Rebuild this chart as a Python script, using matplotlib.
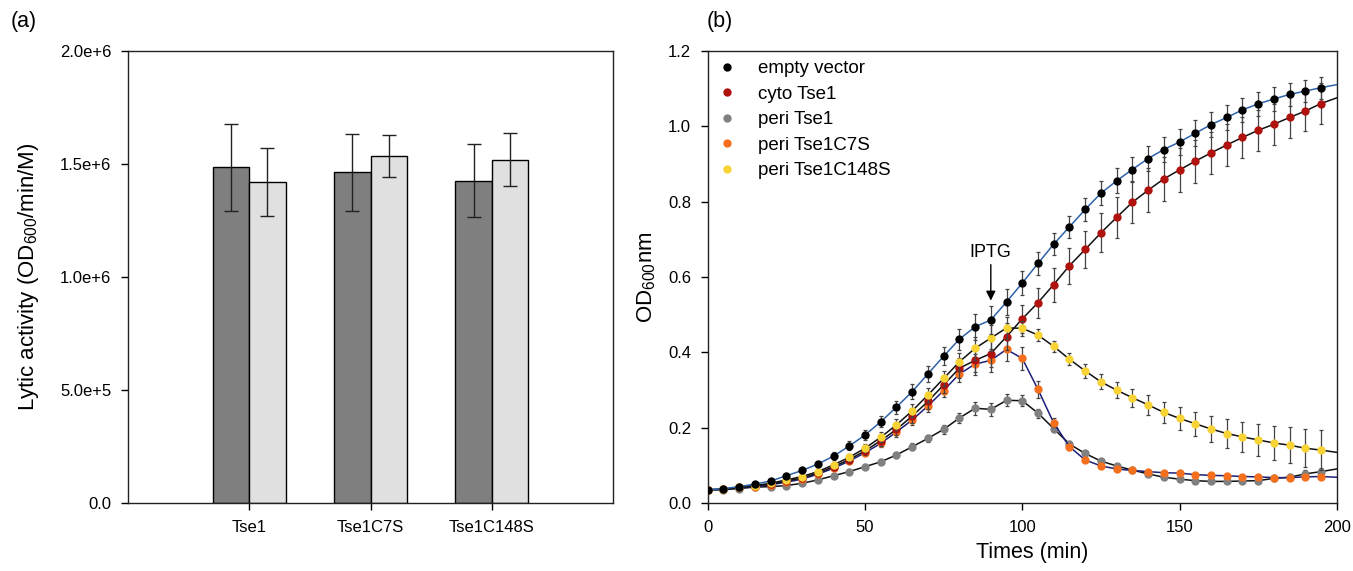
import matplotlib
matplotlib.use('Agg')
import matplotlib.pyplot as plt
import numpy as np

plt.rcParams['font.family'] = ['Liberation Sans', 'DejaVu Sans']
plt.rcParams['mathtext.fontset'] = 'custom'
plt.rcParams['mathtext.rm'] = 'Liberation Sans'

# ---- panel (a): lytic activity ----
proteins = ['Tse1', 'Tse1C7S', 'Tse1C148S']
activity_dark = [1.484e6, 1.463e6, 1.426e6]
err_dark = [0.193e6, 0.170e6, 0.161e6]
activity_light = [1.419e6, 1.535e6, 1.519e6]
err_light = [0.150e6, 0.093e6, 0.118e6]
a_ticks = [0, 5e5, 1e6, 1.5e6, 2e6]
a_ticklabels = ['0.0', '5.0e+5', '1.0e+6', '1.5e+6', '2.0e+6']

# ---- panel (b): growth curves, every 5 min ----
times = list(range(0, 200, 5))
t_end = 200
labels = ['empty vector', 'cyto Tse1', 'peri Tse1', 'peri Tse1C7S', 'peri Tse1C148S']

empty_vector = [0.035, 0.039, 0.044, 0.051, 0.059, 0.073, 0.087, 0.104, 0.125, 0.152,
                0.181, 0.216, 0.255, 0.296, 0.343, 0.390, 0.435, 0.468, 0.486, 0.534,
                0.584, 0.636, 0.687, 0.733, 0.779, 0.822, 0.855, 0.885, 0.914, 0.938,
                0.958, 0.981, 1.004, 1.023, 1.043, 1.059, 1.072, 1.084, 1.093, 1.102]
cyto_tse1 = [0.036, 0.037, 0.042, 0.046, 0.051, 0.059, 0.067, 0.080, 0.097, 0.116,
             0.139, 0.166, 0.196, 0.231, 0.270, 0.314, 0.358, 0.379, 0.397, 0.442,
             0.489, 0.532, 0.580, 0.630, 0.673, 0.717, 0.758, 0.798, 0.830, 0.860,
             0.884, 0.907, 0.929, 0.950, 0.970, 0.989, 1.005, 1.023, 1.040, 1.060]
peri_tse1 = [0.036, 0.036, 0.039, 0.043, 0.044, 0.047, 0.053, 0.062, 0.073, 0.084,
             0.097, 0.110, 0.128, 0.150, 0.172, 0.196, 0.226, 0.252, 0.249, 0.273,
             0.272, 0.239, 0.198, 0.157, 0.132, 0.112, 0.099, 0.088, 0.078, 0.069,
             0.064, 0.060, 0.058, 0.058, 0.059, 0.060, 0.066, 0.069, 0.078, 0.084]
peri_c7s = [0.036, 0.037, 0.042, 0.044, 0.049, 0.056, 0.064, 0.077, 0.093, 0.112,
            0.134, 0.159, 0.189, 0.221, 0.258, 0.299, 0.343, 0.369, 0.379, 0.408,
            0.384, 0.302, 0.213, 0.150, 0.115, 0.099, 0.091, 0.087, 0.084, 0.081,
            0.080, 0.076, 0.074, 0.073, 0.071, 0.070, 0.068, 0.068, 0.070, 0.071]
peri_c148s = [0.036, 0.037, 0.043, 0.047, 0.053, 0.062, 0.071, 0.084, 0.102, 0.122,
              0.146, 0.175, 0.208, 0.245, 0.287, 0.331, 0.375, 0.411, 0.438, 0.465,
              0.464, 0.446, 0.416, 0.382, 0.351, 0.322, 0.300, 0.280, 0.261, 0.241,
              0.225, 0.211, 0.197, 0.185, 0.176, 0.168, 0.160, 0.154, 0.146, 0.141]
# where the fitted curves leave the plot at t = 200
line_end = [1.110, 1.075, 0.091, 0.069, 0.135]

err_empty = [0.003, 0.003, 0.004, 0.004, 0.005, 0.006, 0.007, 0.008, 0.010, 0.012,
             0.013, 0.015, 0.017, 0.019, 0.021, 0.024, 0.028, 0.034, 0.036, 0.034,
             0.032, 0.030, 0.030, 0.030, 0.031, 0.032, 0.033, 0.033, 0.034, 0.034,
             0.034, 0.034, 0.033, 0.033, 0.032, 0.031, 0.031, 0.030, 0.030, 0.029]
err_cyto = [0.003, 0.003, 0.003, 0.004, 0.004, 0.005, 0.006, 0.007, 0.008, 0.010,
            0.011, 0.013, 0.015, 0.017, 0.019, 0.022, 0.026, 0.032, 0.036, 0.036,
            0.038, 0.040, 0.045, 0.048, 0.050, 0.052, 0.054, 0.056, 0.058, 0.058,
            0.058, 0.057, 0.056, 0.056, 0.055, 0.055, 0.055, 0.054, 0.054, 0.055]
err_peri = [0.003, 0.003, 0.003, 0.003, 0.003, 0.004, 0.004, 0.005, 0.005, 0.006,
            0.006, 0.007, 0.008, 0.009, 0.010, 0.012, 0.014, 0.017, 0.018, 0.016,
            0.015, 0.012, 0.010, 0.008, 0.007, 0.006, 0.006, 0.005, 0.005, 0.005,
            0.005, 0.005, 0.005, 0.005, 0.005, 0.005, 0.006, 0.008, 0.010, 0.010]
err_c7s = [0.003, 0.003, 0.003, 0.003, 0.004, 0.004, 0.005, 0.006, 0.007, 0.008,
           0.009, 0.010, 0.012, 0.014, 0.016, 0.018, 0.022, 0.028, 0.030, 0.030,
           0.030, 0.022, 0.012, 0.008, 0.006, 0.005, 0.005, 0.005, 0.005, 0.005,
           0.005, 0.005, 0.005, 0.005, 0.005, 0.005, 0.005, 0.005, 0.005, 0.005]
err_c148s = [0.003, 0.003, 0.003, 0.004, 0.004, 0.005, 0.006, 0.007, 0.008, 0.009,
             0.011, 0.013, 0.015, 0.017, 0.019, 0.021, 0.024, 0.030, 0.034, 0.030,
             0.020, 0.015, 0.015, 0.016, 0.018, 0.020, 0.022, 0.024, 0.026, 0.028,
             0.030, 0.032, 0.035, 0.038, 0.040, 0.043, 0.046, 0.048, 0.050, 0.052]

marker_colors = ['#000000', '#b0120e', '#808080', '#f5701e', '#f7d335']
line_colors = ['#2f62a8', '#111111', '#111111', '#1c1f78', '#111111']
zorders = [7, 5, 3, 4, 6]

fig = plt.figure(figsize=(13.53, 5.71), dpi=100)
ax_a = fig.add_axes([0.0946, 0.1186, 0.3585, 0.7926])
ax_b = fig.add_axes([0.5231, 0.1186, 0.4649, 0.7926])

# panel (a)
x = np.arange(1, len(proteins) + 1)
w = 0.3
ax_a.bar(x - w / 2, activity_dark, w, yerr=err_dark, color='#7f7f7f', edgecolor='black',
         linewidth=1, capsize=5, error_kw=dict(elinewidth=1, capthick=1, ecolor='#222222'))
ax_a.bar(x + w / 2, activity_light, w, yerr=err_light, color='#e0e0e0', edgecolor='black',
         linewidth=1, capsize=5, error_kw=dict(elinewidth=1, capthick=1, ecolor='#222222'))
ax_a.set_xlim(0, 4)
ax_a.set_ylim(0, 2e6)
ax_a.set_xticks(x)
ax_a.set_xticklabels(proteins)
ax_a.set_yticks(a_ticks)
ax_a.set_yticklabels(a_ticklabels)
ax_a.set_ylabel('Lytic activity (OD$_\\mathregular{600}$/min/M)', fontsize=16, labelpad=14)

# panel (b)
series = [empty_vector, cyto_tse1, peri_tse1, peri_c7s, peri_c148s]
errs = [err_empty, err_cyto, err_peri, err_c7s, err_c148s]
for i in range(len(series)):
    ax_b.errorbar(times, series[i], yerr=errs[i], fmt='none', ecolor='#444444',
                  elinewidth=0.9, capsize=1.5, capthick=0.9, zorder=zorders[i] - 0.5)
    ax_b.plot(times + [t_end], series[i] + [line_end[i]], '-', color=line_colors[i],
              lw=1.1, zorder=zorders[i] - 0.3)
    ax_b.plot(times, series[i], 'o', color=marker_colors[i], markersize=6,
              markeredgewidth=0, label=labels[i], zorder=zorders[i])

ax_b.annotate('', xy=(90, 0.53), xytext=(90, 0.64),
              arrowprops=dict(arrowstyle='-|>', color='black', lw=1, mutation_scale=14))
ax_b.text(90, 0.664, 'IPTG', ha='center', va='center', fontsize=13)

ax_b.set_xlim(0, 200)
ax_b.set_ylim(0, 1.2)
ax_b.set_xticks([0, 50, 100, 150, 200])
ax_b.set_yticks(np.arange(0, 1.21, 0.2))
ax_b.yaxis.set_major_formatter(plt.FormatStrFormatter('%.1f'))
ax_b.set_xlabel('Times (min)', fontsize=15.5, labelpad=5)
ax_b.xaxis.label.set_x(0.516)
ax_b.set_ylabel('OD$_\\mathregular{600}$nm', fontsize=16, labelpad=7)
ax_b.legend(loc='upper left', bbox_to_anchor=(0.003, 1.0), frameon=False, fontsize=13.5,
            handlelength=0.8, handletextpad=1.3, labelspacing=0.45, borderaxespad=0.1)

for ax in (ax_a, ax_b):
    for s in ax.spines.values():
        s.set_linewidth(1.0)
        s.set_color('#222222')
    ax.tick_params(direction='out', length=5, width=1, pad=7, labelsize=12,
                   top=False, right=False)

fig.text(0.008, 0.952, '(a)', fontsize=15.5)
fig.text(0.522, 0.952, '(b)', fontsize=15.5)

fig.savefig('out.png', dpi=100)
